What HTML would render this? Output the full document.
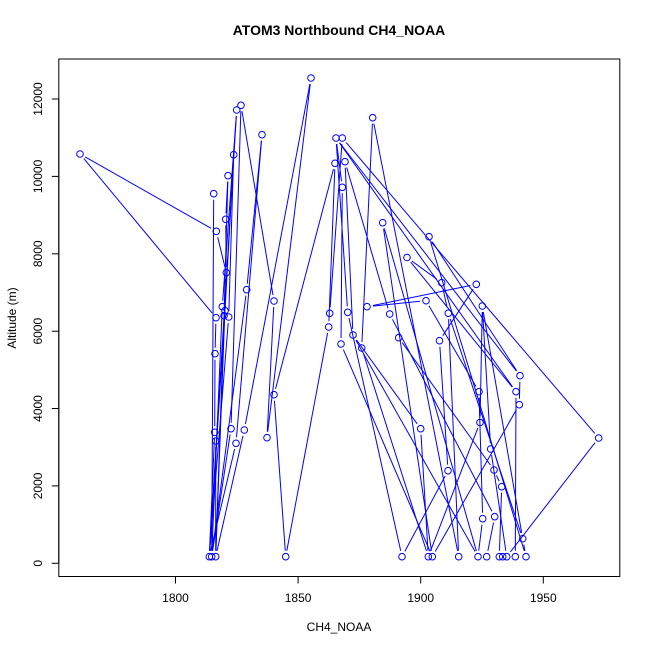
<!DOCTYPE html>
<html><head><meta charset="utf-8">
<style>html,body{margin:0;padding:0;background:#fff}svg{display:block}</style>
</head>
<body>
<svg id="s" width="650" height="650" xmlns="http://www.w3.org/2000/svg" font-family="Liberation Sans, Arial, sans-serif">
<rect width="650" height="650" fill="#fff"/>
<text x="339" y="35" font-size="14" font-weight="bold" text-anchor="middle">ATOM3 Northbound CH4_NOAA</text>
<rect x="58.8" y="59" width="561" height="517.5" fill="none" stroke="#000" stroke-width="1"/>
<g stroke="#000" stroke-width="1">
<line x1="175.5" y1="576.5" x2="543.3" y2="576.5"/>
<line x1="175.5" y1="576.5" x2="175.5" y2="583.5"/>
<line x1="298.1" y1="576.5" x2="298.1" y2="583.5"/>
<line x1="420.7" y1="576.5" x2="420.7" y2="583.5"/>
<line x1="543.3" y1="576.5" x2="543.3" y2="583.5"/>
<line x1="58.8" y1="563.3" x2="58.8" y2="99"/>
<line x1="58.8" y1="563.3" x2="51.8" y2="563.3"/>
<line x1="58.8" y1="485.9" x2="51.8" y2="485.9"/>
<line x1="58.8" y1="408.5" x2="51.8" y2="408.5"/>
<line x1="58.8" y1="331.2" x2="51.8" y2="331.2"/>
<line x1="58.8" y1="253.8" x2="51.8" y2="253.8"/>
<line x1="58.8" y1="176.4" x2="51.8" y2="176.4"/>
<line x1="58.8" y1="99" x2="51.8" y2="99"/>
</g>
<g font-size="12" text-anchor="middle" fill="#000">
<text x="175.5" y="602">1800</text>
<text x="298.1" y="602">1850</text>
<text x="420.7" y="602">1900</text>
<text x="543.3" y="602">1950</text>
<text transform="translate(42,563.3) rotate(-90)">0</text>
<text transform="translate(42,485.9) rotate(-90)">2000</text>
<text transform="translate(42,408.5) rotate(-90)">4000</text>
<text transform="translate(42,331.2) rotate(-90)">6000</text>
<text transform="translate(42,253.8) rotate(-90)">8000</text>
<text transform="translate(42,176.4) rotate(-90)">10000</text>
<text transform="translate(42,99) rotate(-90)">12000</text>
<text x="339" y="631">CH4_NOAA</text>
<text transform="translate(16,318) rotate(-90)">Altitude (m)</text>
</g>
<g id="g" stroke="#0000ff" stroke-width="1" fill="none"></g>
</svg>
<script>
var P={
L1:[80,154],L2:[213.7,193.7],L3:[216.3,231.3],L4:[216,317.7],L5:[215,353.7],L6:[214.7,432.3],L7:[215.7,441],
L8:[209.3,556.7],L9:[211.7,556.7],L10:[215.7,556.7],L11:[225.7,219.3],L12:[228,175.7],L13:[233.7,154.7],
L14:[236.7,110],L15:[241,105.3],L16:[262,134.7],L17:[226.3,272.7],L18:[246.7,289.7],L19:[274,301],
L20:[222.3,306.7],L21:[225,310.7],L22:[224,315.7],L23:[228.7,317],L24:[231,428.7],L25:[244.3,430],
L26:[236,443.3],L27:[267,437.7],L28:[274,394.7],L29:[285.7,556.7],
M1:[311,78],M2:[336,138],M3:[342.3,138],M4:[335,163.3],M5:[345,161.7],M6:[342.3,187.3],M7:[372.7,117.7],
M8:[382.7,222.7],M9:[329.7,313.3],M10:[328.7,327],M11:[347.7,312.3],M12:[341,344],M13:[353,335],
M14:[361.7,348],M15:[367,306.7],
R1:[407,257.5],R2:[429,236.7],R3:[389.7,314],R4:[398.7,337.7],R5:[426,300.7],R6:[441.7,282.7],
R7:[476.3,284.3],R8:[448.3,313.2],R9:[439.5,340.7],R10:[482.3,306],R11:[520,375.7],R12:[516,391.7],
R13:[519.3,404.7],R14:[479,391.7],R15:[480,422.5],R16:[420.7,428.7],R17:[448,470.7],R18:[490.7,449],
R19:[494,470],R20:[501.7,486.7],R21:[494.7,516.7],R22:[482.7,518.7],R23:[522.7,538.7],R24:[598.7,438],
B1:[402,556.7],B2:[428.3,556.7],B3:[432.3,556.7],B4:[458.7,556.7],B5:[478,556.7],B6:[486.7,556.7],
B7:[499.3,556.7],B8:[502.7,556.7],B9:[506.7,556.7],B10:[515.3,556.7],B11:[526,556.7]
};
var S=("L1-L3 L1-L4 L2-L9 L3-L17 L4-L5 L5-L6 L6-L8 L7-L10 L11-L17 L12-L22 L13-L21 L14-L20 L15-L19 L15-L24 "+
"L16-L18 L16-L26 L17-L10 L18-L9 L19-L27 L20-L9 L21-L8 L22-L10 L23-L8 L23-L13 L24-L9 L25-M1 L27-M1 L25-L10 "+
"L26-L8 L28-M4 L28-L29 L29-M10 L12-L11 L14-L8 "+
"M3-R24 M3-M9 M2-R12 M2-R11 M2-M11 M6-M2 M4-M10 M5-R3 M5-M13 M6-M12 M7-M14 M7-B4 M8-B5 M8-B3 M11-B1 M12-B3 "+
"M13-R16 M13-B5 M14-B2 M15-R5 M15-R7 "+
"R1-R6 R1-R12 R2-R11 R2-B11 R3-R21 R4-R19 R5-R14 R6-R8 R7-R9 R8-B4 R8-R23 R9-R17 R10-R18 R10-R23 "+
"R11-R13 R12-B10 R13-B3 R14-R15 R15-B2 R16-B2 R17-B1 R18-B9 R19-R20 R20-B7 R21-B6 R22-B5 R22-R14 "+
"R24-B9 R23-B11 R10-R15").split(" ");
var NS="http://www.w3.org/2000/svg",g=document.getElementById("g"),G=6;
S.forEach(function(s){var ab=s.split("-"),p=P[ab[0]],q=P[ab[1]];if(!p||!q)return;
var dx=q[0]-p[0],dy=q[1]-p[1],d=Math.sqrt(dx*dx+dy*dy);if(d<2*G+1)return;
var ux=dx/d,uy=dy/d,l=document.createElementNS(NS,"line");
l.setAttribute("x1",p[0]+ux*G);l.setAttribute("y1",p[1]+uy*G);
l.setAttribute("x2",q[0]-ux*G);l.setAttribute("y2",q[1]-uy*G);g.appendChild(l);});
for(var k in P){var c=document.createElementNS(NS,"circle");c.setAttribute("cx",P[k][0]);c.setAttribute("cy",P[k][1]);c.setAttribute("r","3.3");g.appendChild(c);}
</script>
</body></html>
